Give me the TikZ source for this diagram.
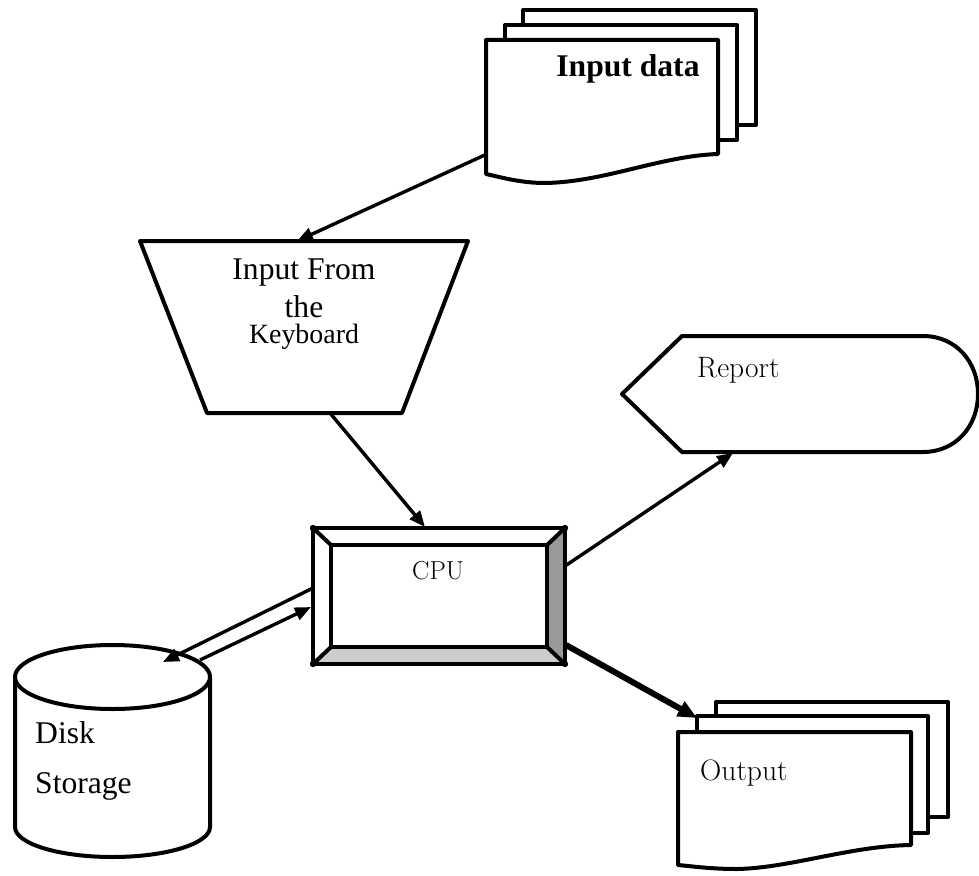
\documentclass[tikz,border=0pt]{standalone}
\usepackage{fontspec}
\newfontfamily\timesf{Liberation Serif}
\usetikzlibrary{arrows.meta}
\begin{document}
\begin{tikzpicture}[x=1pt,y=-1pt,
  outline/.style={draw=black,line width=4pt,line join=round},
  conn/.style={draw=black,line width=3.4pt,-{Triangle[length=16pt,width=13pt]}},
  thickconn/.style={draw=black,line width=6pt,-{Triangle[length=19pt,width=16pt]}},
  tlabel/.style={font=\timesf\fontsize{31.6}{36}\selectfont,inner sep=0pt},
  klabel/.style={font=\timesf\fontsize{27.9}{32}\selectfont,inner sep=0pt},
  lmlabel/.style={font=\fontsize{29.5}{34}\selectfont,inner sep=0pt},
  cornerdot/.style={fill=black,radius=3.2pt}]
\useasboundingbox (0,0) rectangle (979,875);

% ---------- Input data stack ----------
\path[outline,fill=white] (523,10) rectangle (756,125);
\path[outline,fill=white] (505,25) rectangle (737,140);
\path[outline,fill=white] (486,40) -- (718,40) -- (718,154)
  .. controls (660,156) and (605,182) .. (545,183)
  .. controls (520,183) and (500,177) .. (486,174) -- cycle;
\node[tlabel,anchor=base] (indata) at (628,76) {\bfseries Input data};
\coordinate (indataOut) at (487,154);

% ---------- Keyboard trapezoid ----------
\path[outline,fill=white] (140,241) -- (468,241) -- (402,413) -- (207,413) -- cycle;
\node[tlabel,anchor=base] (kb1) at (304,279) {Input From};
\node[tlabel,anchor=base] (kb2) at (304,317) {the};
\node[klabel,anchor=base] (kb3) at (304,343) {Keyboard};
\coordinate (kbIn) at (297,241);
\coordinate (kbOut) at (330,413);

% ---------- CPU ----------
\fill[black!40] (547,545) -- (565,528) -- (565,664) -- (547,647) -- cycle;
\fill[black!20] (331,647) -- (547,647) -- (565,664) -- (313,664) -- cycle;
\draw[outline] (313,528) rectangle (565,664);
\draw[outline] (331,545) rectangle (547,647);
\draw[outline] (313,528) -- (331,545);
\draw[outline] (565,528) -- (547,545);
\draw[outline] (565,664) -- (547,647);
\draw[outline] (313,664) -- (331,647);
\fill[cornerdot] (313,528) circle;
\fill[cornerdot] (565,528) circle;
\fill[cornerdot] (565,664) circle;
\fill[cornerdot] (313,664) circle;
\node[font=\fontsize{26}{30}\selectfont,inner sep=0pt,anchor=base] (cpu) at (438,579) {CPU};
\coordinate (cpuTop) at (425,527);
\coordinate (cpuRight) at (565,566);
\coordinate (cpuBR) at (566,645);
\coordinate (cpuL1) at (313,588);
\coordinate (cpuIn) at (311,607);

% ---------- Report ----------
\path[outline,fill=white] (622,394) -- (682,336) -- (923,336)
  .. controls (956,336) and (978,362) .. (978,394)
  .. controls (978,426) and (956,452) .. (923,452) -- (682,452) -- cycle;
\node[lmlabel,anchor=base west] (report) at (697,377) {Report};
\coordinate (reportIn) at (733,453);

% ---------- Output stack ----------
\path[outline,fill=white] (716,702) rectangle (948,817);
\path[outline,fill=white] (697,716) rectangle (928,833);
\path[outline,fill=white] (678,732) -- (911,732) -- (911,845)
  .. controls (850,846) and (790,868) .. (737,869)
  .. controls (710,869) and (690,866) .. (678,865) -- cycle;
\node[lmlabel,anchor=base west] (output) at (700,780) {Output};
\coordinate (outputIn) at (697,718);

% ---------- Disk storage ----------
\path[outline,fill=white] (15,677) -- (15,827)
  arc[start angle=180,end angle=0,x radius=97.5,y radius=30] -- (210,677) -- cycle;
\draw[outline,fill=white] (112.5,677) ellipse[x radius=97.5,y radius=32];
\node[tlabel,anchor=base west] (disk1) at (35,743) {Disk};
\node[tlabel,anchor=base west] (disk2) at (35,793) {Storage};
\coordinate (diskIn) at (163,662);
\coordinate (diskOut) at (200,660);

% ---------- Connectors ----------
\draw[conn] (indataOut) -- (kbIn);
\draw[conn] (kbOut) -- (cpuTop);
\draw[conn] (cpuRight) -- (reportIn);
\draw[thickconn] (cpuBR) -- (outputIn);
\draw[conn] (cpuL1) -- (diskIn);
\draw[conn] (diskOut) -- (cpuIn);
\end{tikzpicture}
\end{document}
